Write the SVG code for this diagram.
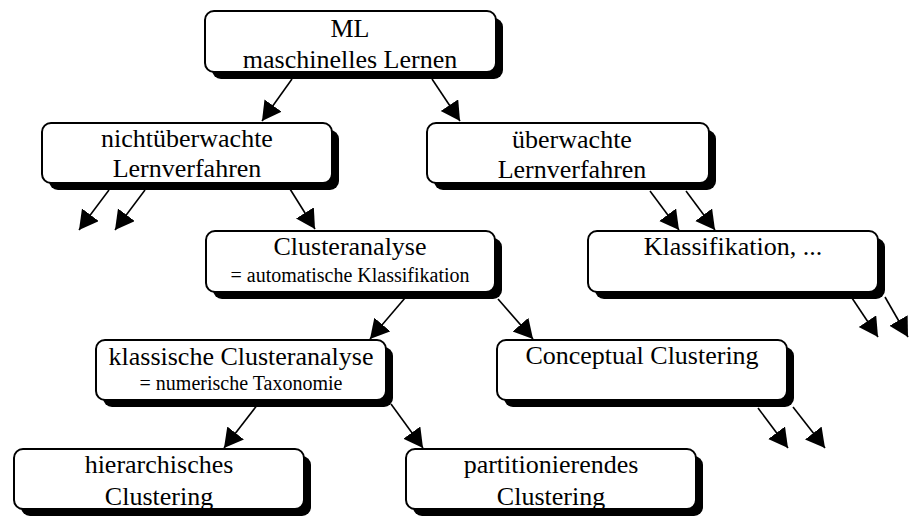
<svg xmlns="http://www.w3.org/2000/svg" width="909" height="516" viewBox="0 0 909 516">
  <style>
    .shadow { fill: #000; }
    .box { fill: #fff; stroke: #000; stroke-width: 2; }
    .t { font-family: "Liberation Serif", "Times New Roman", serif; font-size: 26px; fill: #000; text-anchor: middle; }
    .s { font-size: 20px; }
    .edge { stroke: #000; stroke-width: 1.6; fill: none; marker-end: url(#arrow); }
  </style>
  <defs>
    <marker id="arrow" markerUnits="userSpaceOnUse" markerWidth="20" markerHeight="22" refX="19" refY="10.5" orient="auto">
      <path d="M0,0 L19,10.5 L0,21 z" fill="#000"/>
    </marker>
  </defs>
  <rect width="909" height="516" fill="#fff"/>

  <g id="connectors">
    <line class="edge" x1="292" y1="79" x2="262" y2="121"/>
    <line class="edge" x1="432" y1="79" x2="460" y2="121"/>
    <line class="edge" x1="109" y1="190" x2="79" y2="230"/>
    <line class="edge" x1="145" y1="190" x2="115" y2="230"/>
    <line class="edge" x1="290" y1="189" x2="315" y2="229"/>
    <line class="edge" x1="650" y1="191" x2="679" y2="230"/>
    <line class="edge" x1="686" y1="191" x2="715" y2="230"/>
    <line class="edge" x1="852" y1="298" x2="878" y2="337"/>
    <line class="edge" x1="885" y1="297" x2="908" y2="337"/>
    <line class="edge" x1="405" y1="298" x2="370" y2="339"/>
    <line class="edge" x1="498" y1="299" x2="533" y2="339"/>
    <line class="edge" x1="258" y1="404" x2="224" y2="448"/>
    <line class="edge" x1="391" y1="404" x2="423" y2="448"/>
    <line class="edge" x1="758" y1="408" x2="788" y2="448"/>
    <line class="edge" x1="793" y1="407" x2="825" y2="448"/>
  </g>

  <g id="ml">
    <rect class="shadow" x="212" y="18" width="291" height="61" rx="9"/>
    <rect class="box" x="205" y="11" width="291" height="61" rx="9"/>
    <text class="t" x="350" y="37">ML</text>
    <text class="t" x="350" y="68">maschinelles Lernen</text>
  </g>

  <g id="unsupervised">
    <rect class="shadow" x="49" y="130" width="290" height="60" rx="9"/>
    <rect class="box" x="42" y="123" width="290" height="60" rx="9"/>
    <text class="t" x="187" y="147">nichtüberwachte</text>
    <text class="t" x="187" y="177">Lernverfahren</text>
  </g>

  <g id="supervised">
    <rect class="shadow" x="434" y="130" width="282" height="60" rx="9"/>
    <rect class="box" x="427" y="123" width="282" height="60" rx="9"/>
    <text class="t" x="572" y="148">überwachte</text>
    <text class="t" x="572" y="178">Lernverfahren</text>
  </g>

  <g id="clusteranalyse">
    <rect class="shadow" x="213" y="238" width="289" height="61" rx="9"/>
    <rect class="box" x="206" y="231" width="289" height="61" rx="9"/>
    <text class="t" x="350" y="255">Clusteranalyse</text>
    <text class="t s" x="350" y="282">= automatische Klassifikation</text>
  </g>

  <g id="klassifikation">
    <rect class="shadow" x="595" y="238" width="290" height="61" rx="9"/>
    <rect class="box" x="588" y="231" width="290" height="61" rx="9"/>
    <text class="t" x="733" y="255">Klassifikation, ...</text>
  </g>

  <g id="klassische">
    <rect class="shadow" x="103" y="347" width="290" height="60" rx="9"/>
    <rect class="box" x="96" y="340" width="290" height="60" rx="9"/>
    <text class="t" x="241" y="365">klassische Clusteranalyse</text>
    <text class="t s" x="241" y="390">= numerische Taxonomie</text>
  </g>

  <g id="conceptual">
    <rect class="shadow" x="504" y="347" width="290" height="60" rx="9"/>
    <rect class="box" x="497" y="340" width="290" height="60" rx="9"/>
    <text class="t" x="642" y="364">Conceptual Clustering</text>
  </g>

  <g id="hierarchisch">
    <rect class="shadow" x="21" y="456" width="290" height="60" rx="9"/>
    <rect class="box" x="14" y="449" width="290" height="60" rx="9"/>
    <text class="t" x="159" y="473">hierarchisches</text>
    <text class="t" x="159" y="505">Clustering</text>
  </g>

  <g id="partitionierend">
    <rect class="shadow" x="413" y="456" width="290" height="60" rx="9"/>
    <rect class="box" x="406" y="449" width="290" height="60" rx="9"/>
    <text class="t" x="551" y="473">partitionierendes</text>
    <text class="t" x="551" y="505">Clustering</text>
  </g>
</svg>
